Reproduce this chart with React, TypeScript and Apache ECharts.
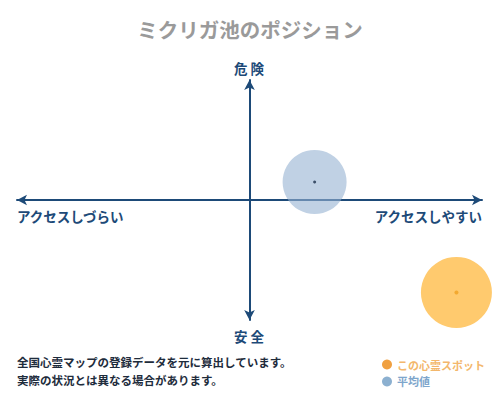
import { useEffect, useRef } from 'react';
import * as echarts from 'echarts';

const titleText = 'ミクリガ池のポジション';
const axisTop = '危 険';
const axisBottom = '安 全';
const axisLeft = 'アクセスしづらい';
const axisRight = 'アクセスしやすい';
const notes = ['全国心霊マップの登録データを元に算出しています。', '実際の状況とは異なる場合があります。'];

const seriesNames = ['この心霊スポット', '平均値'];
// [access, danger] in -1..1
const spotPoint = [0.89, -0.77];
const averagePoint = [0.28, 0.15];

const FONT = '"Noto Sans CJK JP", "Noto Sans", sans-serif';
const NAVY = '#1d4a78';

export default function App() {
    const chartRef = useRef<HTMLDivElement>(null);

    useEffect(() => {
        if (!chartRef.current) return;
        document.body.style.margin = '0';
        const chart = echarts.init(chartRef.current, null, { renderer: 'svg' });

        const hiddenAxis = {
            type: 'value',
            min: -1,
            max: 1,
            axisLine: {
                show: true,
                onZero: true,
                symbol: ['arrow', 'arrow'],
                symbolSize: [8, 10],
                lineStyle: { color: NAVY, width: 2 }
            },
            axisTick: { show: false },
            axisLabel: { show: false },
            splitLine: { show: false }
        };

        const axisText = (text: string, x: number, y: number, align: string) => ({
            type: 'text',
            x,
            y,
            style: { text, fontSize: 13.5, fontWeight: 'bold', fill: NAVY, fontFamily: FONT, align, verticalAlign: 'middle' }
        });

        chart.setOption({
            animation: false,
            backgroundColor: '#ffffff',
            textStyle: { fontFamily: FONT },
            title: {
                text: titleText,
                left: 'center',
                top: 14,
                textStyle: { fontSize: 20.5, fontWeight: 'bold', color: '#9a9a9a', fontFamily: FONT }
            },
            grid: { left: 17, right: 18, top: 80, bottom: 80 },
            xAxis: hiddenAxis,
            yAxis: hiddenAxis,
            legend: {
                orient: 'vertical',
                left: 377,
                top: 354,
                itemWidth: 10,
                itemHeight: 10,
                itemGap: 6,
                icon: 'circle',
                textStyle: { fontSize: 11, fontWeight: 'bold', fontFamily: FONT },
                data: [
                    { name: seriesNames[0], itemStyle: { color: '#f0a040' }, textStyle: { color: '#f3b76c' } },
                    { name: seriesNames[1], itemStyle: { color: '#6f9cc4' }, textStyle: { color: '#7ea6cc' } }
                ]
            },
            series: [
                {
                    name: seriesNames[0],
                    type: 'scatter',
                    data: [spotPoint],
                    symbolSize: 71,
                    itemStyle: { color: '#ffca6e', opacity: 1 },
                    z: 2
                },
                {
                    name: seriesNames[1],
                    type: 'scatter',
                    data: [averagePoint],
                    symbolSize: 64,
                    itemStyle: { color: 'rgba(150,178,210,0.75)' },
                    z: 3
                },
                {
                    name: 'spot-center',
                    type: 'scatter',
                    data: [spotPoint],
                    symbolSize: 4,
                    itemStyle: { color: '#f0a020' },
                    z: 4
                },
                {
                    name: 'average-center',
                    type: 'scatter',
                    data: [averagePoint],
                    symbolSize: 3,
                    itemStyle: { color: '#1a2e4a' },
                    z: 4
                }
            ],
            graphic: [
                axisText(axisTop, 249, 68, 'center'),
                axisText(axisBottom, 249, 336, 'center'),
                axisText(axisLeft, 17, 216, 'left'),
                axisText(axisRight, 482, 216, 'right'),
                {
                    type: 'text',
                    x: 17,
                    y: 353,
                    style: { text: notes.join('\n'), fontSize: 11.5, fontWeight: 'bold', lineHeight: 18, fill: '#1e2c3c', fontFamily: FONT }
                }
            ]
        });

        return () => chart.dispose();
    }, []);

    return <div ref={chartRef} style={{ width: 500, height: 400 }} />;
}
